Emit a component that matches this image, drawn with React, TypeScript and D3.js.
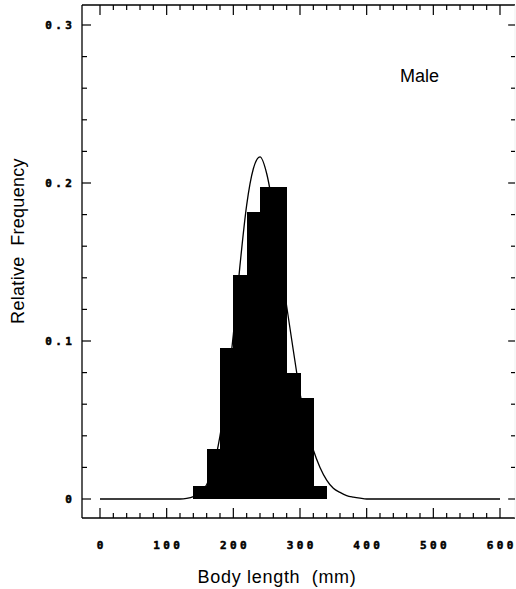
import React from "react";
import * as d3 from "d3";

// Histogram of male body length (20 mm bins) with the fitted density curve
const binStarts = [140, 160, 180, 200, 220, 240, 260, 280, 300, 320];
const binWidth = 20;
const relFreq = [0.008, 0.0315, 0.0954, 0.1418, 0.1814, 0.1977, 0.1977, 0.0795, 0.0637, 0.0082];

const curveLength = [0, 100, 120, 130, 140, 150, 160, 170, 180, 190, 200, 210, 220, 230, 240, 250, 260, 270, 280, 290, 300, 310, 320, 330, 340, 350, 360, 370, 380, 390, 400, 600];
const curveFreq = [0, 0, 0, 0.0004, 0.0015, 0.004, 0.009, 0.02, 0.04, 0.068, 0.104, 0.148, 0.186, 0.209, 0.2165, 0.206, 0.183, 0.152, 0.122, 0.094, 0.067, 0.046, 0.031, 0.02, 0.012, 0.0068, 0.0042, 0.0022, 0.0012, 0.0005, 0, 0];

const xTickLabels = ["0", "100", "200", "300", "400", "500", "600"];
const yTickLabels = ["0", "0.1", "0.2", "0.3"];

const W = 516;
const H = 589;
const box = { left: 82, right: 515, top: 5, bottom: 518 };

const x = d3.scaleLinear().domain([0, 600]).range([100, 500]);
const y = d3.scaleLinear().domain([0, 0.3]).range([499, 25]);

const tickFont = "'DejaVu Sans Mono', monospace";
const textFont = "'Liberation Sans', Arial, Helvetica, sans-serif";

export default function App() {
  const xMinor = d3.range(0, 601, 20);
  const yMinor = d3.range(0, 0.3001, 0.02);
  const line = d3
    .line<number>()
    .x((_, i) => x(curveLength[i]))
    .y((d) => y(d))
    .curve(d3.curveMonotoneX);

  return (
    <svg
      width={W}
      height={H}
      style={{ position: "absolute", left: 0, top: 0, background: "#fff" }}
    >
      <rect x={0} y={0} width={W} height={H} fill="#fff" />

      {/* bars */}
      <g shapeRendering="crispEdges">
        {binStarts.map((b, i) => (
          <rect
            key={b}
            x={x(b)}
            y={y(relFreq[i])}
            width={x(b + binWidth) - x(b) + 0.6}
            height={y(0) - y(relFreq[i])}
            fill="#000"
          />
        ))}
      </g>

      {/* fitted curve */}
      <path d={line(curveFreq) || ""} fill="none" stroke="#000" strokeWidth={1.3} />

      {/* frame */}
      <g stroke="#000" fill="none">
        <line x1={box.left} x2={box.left} y1={box.top} y2={box.bottom} strokeWidth={1.3} />
        <line x1={box.left} x2={box.right} y1={box.bottom} y2={box.bottom} strokeWidth={1.3} />
        <line x1={box.left} x2={box.right} y1={box.top} y2={box.top} strokeWidth={1.3} />
        <line x1={box.right} x2={box.right} y1={box.top} y2={box.bottom} strokeWidth={0.6} stroke="#e4e4e4" />
      </g>

      {/* x ticks, top and bottom */}
      <g stroke="#000" strokeWidth={1.2}>
        {xMinor.map((v) => {
          const major = v % 100 === 0;
          const len = major ? 10 : 5;
          return (
            <g key={v}>
              <line x1={x(v)} x2={x(v)} y1={box.bottom} y2={box.bottom - len} />
              <line x1={x(v)} x2={x(v)} y1={box.top} y2={box.top + len} />
            </g>
          );
        })}
      </g>

      {/* y ticks, left and right */}
      <g stroke="#000" strokeWidth={1.2}>
        {yMinor.map((v, i) => {
          const major = i % 5 === 0;
          return (
            <g key={i}>
              <line x1={box.left} x2={box.left + (major ? 9 : 5)} y1={y(v)} y2={y(v)} />
              <line x1={box.right} x2={box.right - (major ? 7 : 4)} y1={y(v)} y2={y(v)} />
            </g>
          );
        })}
      </g>

      {/* tick labels */}
      <g fontFamily={tickFont} fontWeight="bold" fontSize={11} letterSpacing={3.4} fill="#000" stroke="#000" strokeWidth={0.5}>
        {xTickLabels.map((t) => (
          <text key={t} x={x(+t) + 1.7} y={549} textAnchor="middle">
            {t}
          </text>
        ))}
        {yTickLabels.map((t) => (
          <text key={t} x={75.4} y={y(+t) + 4} textAnchor="end">
            {t}
          </text>
        ))}
      </g>

      {/* titles */}
      <text
        x={277}
        y={583}
        textAnchor="middle"
        fontFamily={textFont}
        fontSize={18}
        letterSpacing={0.7}
        fill="#000"
        style={{ whiteSpace: "pre" }}
      >
        {"Body length  (mm)"}
      </text>
      <text
        transform={`translate(24,241) rotate(-90)`}
        textAnchor="middle"
        fontFamily={textFont}
        fontSize={18}
        letterSpacing={0.3}
        fill="#000"
        style={{ whiteSpace: "pre" }}
      >
        {"Relative  Frequency"}
      </text>
      <text x={400} y={82} fontFamily={textFont} fontSize={18} fill="#000">
        Male
      </text>
    </svg>
  );
}
